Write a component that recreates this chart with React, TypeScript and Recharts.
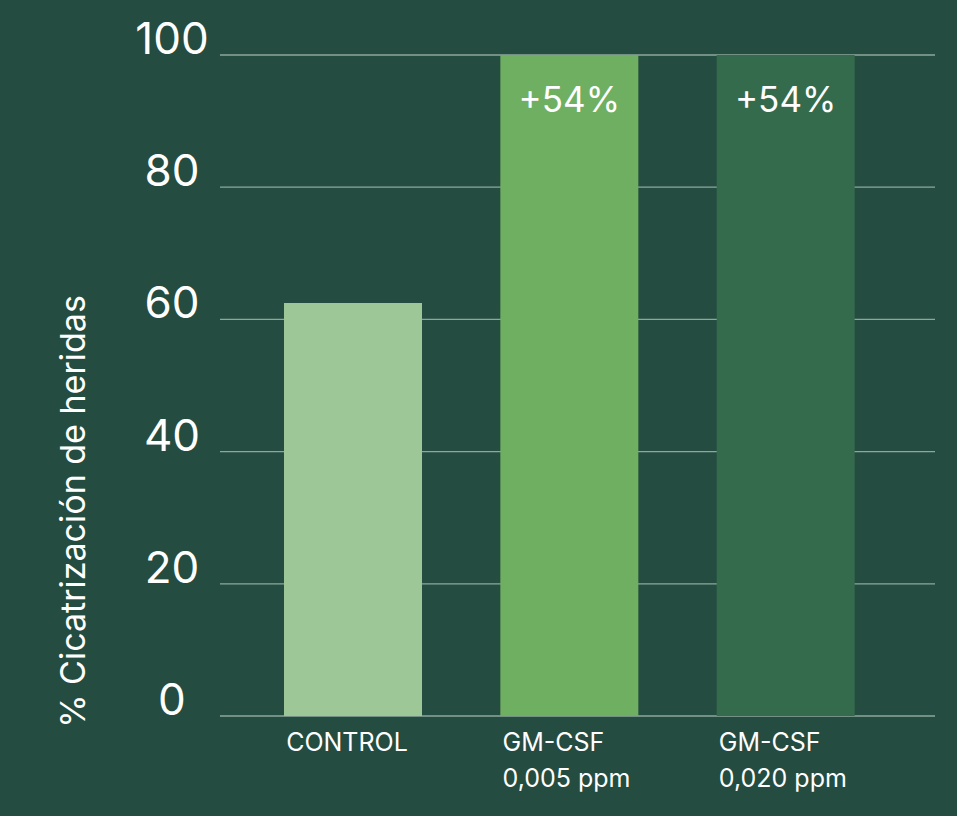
import React from "react";
import { BarChart, Bar, XAxis, YAxis, CartesianGrid, Cell, LabelList } from "recharts";

const categories = ["CONTROL", "GM-CSF\n0,005 ppm", "GM-CSF\n0,020 ppm"];
const values = [62.5, 100, 100];
const barLabels = ["", "+54%", "+54%"];
const barColors = ["#9dc797", "#6faf62", "#356b4d"];
const yTicks = [0, 20, 40, 60, 80, 100];

const data = categories.map((c, i) => ({ name: c, value: values[i], label: barLabels[i] }));

const FONT = "Inter, 'Open Sans', sans-serif";
const BAR_SIZE = 138;

const YTick = (props: any) => {
  const { y, payload } = props;
  return (
    <text x={172} y={y - 1} textAnchor="middle" fill="#ffffff" fontSize={44} fontFamily={FONT} fontWeight={400}>
      {payload.value}
    </text>
  );
};

const XTick = (props: any) => {
  const { x, y, payload } = props;
  const lines = String(payload.value).split("\n");
  return (
    <g>
      {lines.map((l, i) => (
        <text key={i} x={x - BAR_SIZE / 2 + 2} y={y + 27 + i * 36} textAnchor="start" fill="#ffffff" fontSize={25} fontFamily={FONT}>
          {l}
        </text>
      ))}
    </g>
  );
};

const BarLabel = (props: any) => {
  const { x, y, width, value } = props;
  if (!value) return null;
  return (
    <text x={x + width / 2} y={y + 57} textAnchor="middle" fill="#ffffff" fontSize={35} fontFamily={FONT}>
      {value}
    </text>
  );
};

const YLabel = (props: any) => {
  const { viewBox } = props;
  const cx = 72;
  const cy = viewBox.y + viewBox.height / 2 + 126;
  return (
    <text
      x={cx}
      y={cy}
      transform={`rotate(-90, ${cx}, ${cy})`}
      textAnchor="middle"
      dominantBaseline="central"
      fill="#ffffff"
      fontSize={34}
      fontFamily={FONT}
    >
      % Cicatrización de heridas
    </text>
  );
};

export default function App() {
  return (
    <div style={{ position: "absolute", left: 0, top: 0, width: 957, height: 816, background: "#244c40" }}>
      <BarChart width={957} height={816} data={data} margin={{ top: 55, right: 22, bottom: 70, left: 0 }}>
        <CartesianGrid horizontal vertical={false} stroke="#8ea79c" strokeWidth={1.3} />
        <XAxis
          dataKey="name"
          axisLine={false}
          tickLine={false}
          tick={<XTick />}
          padding={{ left: 25, right: 41 }}
          interval={0}
        />
        <YAxis
          width={220}
          domain={[0, 100]}
          ticks={yTicks}
          axisLine={false}
          tickLine={false}
          tick={<YTick />}
          label={<YLabel />}
        />
        <Bar dataKey="value" barSize={BAR_SIZE} isAnimationActive={false}>
          {data.map((d, i) => (
            <Cell key={i} fill={barColors[i]} />
          ))}
          <LabelList dataKey="label" content={<BarLabel />} />
        </Bar>
      </BarChart>
    </div>
  );
}
